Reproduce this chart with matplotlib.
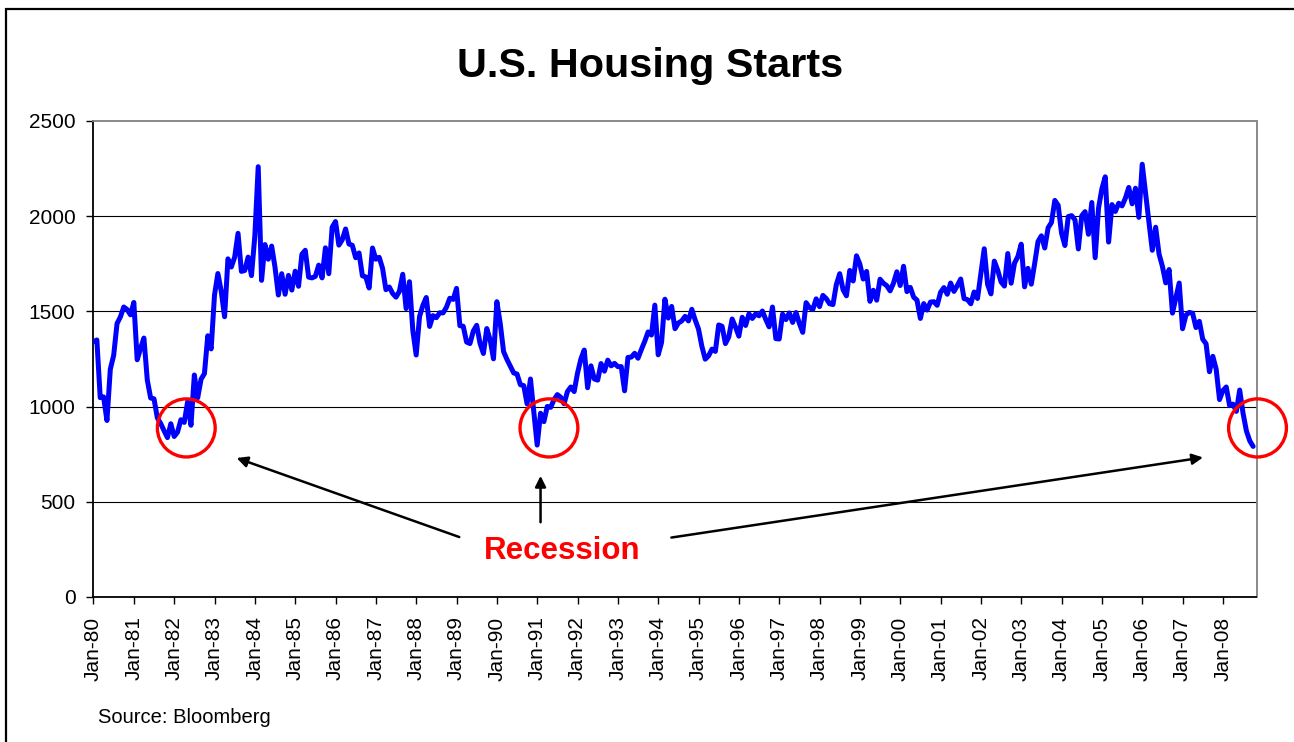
import matplotlib.pyplot as plt
from matplotlib.patches import Ellipse, Rectangle

# monthly housing starts, thousands (annual rate), Jan-80 .. Oct-08
y1980 = [1341, 1350, 1047, 1051, 927, 1196, 1269, 1436, 1471, 1523, 1510, 1482]
y1981 = [1547, 1246, 1306, 1360, 1140, 1045, 1041, 940, 911, 873, 837, 910]
y1982 = [843, 866, 931, 917, 1025, 902, 1166, 1046, 1144, 1173, 1372, 1303]
y1983 = [1586, 1699, 1606, 1472, 1776, 1733, 1785, 1910, 1710, 1715, 1785, 1688]
y1984 = [1897, 2260, 1663, 1851, 1774, 1843, 1732, 1586, 1698, 1590, 1689, 1612]
y1985 = [1711, 1632, 1800, 1821, 1680, 1676, 1684, 1743, 1676, 1834, 1698, 1942]
y1986 = [1972, 1848, 1876, 1933, 1854, 1847, 1782, 1807, 1687, 1681, 1623, 1833]
y1987 = [1774, 1784, 1726, 1614, 1628, 1594, 1575, 1605, 1695, 1515, 1656, 1400]
y1988 = [1271, 1473, 1532, 1573, 1421, 1478, 1467, 1493, 1492, 1522, 1569, 1563]
y1989 = [1621, 1425, 1422, 1339, 1331, 1397, 1427, 1332, 1279, 1410, 1351, 1251]
y1990 = [1551, 1437, 1289, 1248, 1212, 1177, 1171, 1115, 1110, 1014, 1145, 969]
y1991 = [798, 965, 921, 1001, 996, 1036, 1063, 1049, 1015, 1079, 1103, 1079]
y1992 = [1176, 1250, 1297, 1099, 1214, 1145, 1139, 1226, 1186, 1244, 1214, 1227]
y1993 = [1210, 1210, 1083, 1258, 1260, 1280, 1254, 1300, 1343, 1392, 1376, 1533]
y1994 = [1272, 1337, 1564, 1465, 1526, 1409, 1439, 1450, 1474, 1450, 1511, 1455]
y1995 = [1407, 1316, 1249, 1267, 1302, 1290, 1429, 1422, 1331, 1366, 1460, 1418]
y1996 = [1370, 1469, 1426, 1487, 1463, 1487, 1477, 1502, 1458, 1419, 1523, 1357]
y1997 = [1355, 1486, 1457, 1492, 1442, 1494, 1437, 1390, 1546, 1520, 1510, 1566]
y1998 = [1525, 1584, 1567, 1540, 1536, 1641, 1698, 1614, 1582, 1715, 1660, 1792]
y1999 = [1748, 1670, 1710, 1553, 1611, 1559, 1669, 1648, 1635, 1608, 1648, 1708]
y2000 = [1636, 1737, 1604, 1626, 1575, 1559, 1463, 1541, 1507, 1549, 1551, 1532]
y2001 = [1600, 1625, 1590, 1649, 1605, 1636, 1670, 1567, 1562, 1540, 1602, 1568]
y2002 = [1698, 1829, 1642, 1592, 1764, 1717, 1655, 1633, 1804, 1648, 1753, 1788]
y2003 = [1853, 1629, 1726, 1643, 1751, 1867, 1897, 1833, 1939, 1967, 2083, 2057]
y2004 = [1911, 1846, 1998, 2003, 1981, 1828, 2002, 2024, 1905, 2072, 1782, 2042]
y2005 = [2144, 2207, 1864, 2061, 2025, 2068, 2054, 2095, 2151, 2065, 2147, 1994]
y2006 = [2273, 2119, 1969, 1821, 1942, 1802, 1737, 1650, 1720, 1491, 1570, 1649]
y2007 = [1409, 1480, 1495, 1490, 1415, 1448, 1354, 1330, 1183, 1264, 1197, 1037]
y2008 = [1084, 1103, 1005, 1013, 975, 1087, 965, 872, 820, 791]

years = [y1980, y1981, y1982, y1983, y1984, y1985, y1986, y1987, y1988, y1989,
         y1990, y1991, y1992, y1993, y1994, y1995, y1996, y1997, y1998, y1999,
         y2000, y2001, y2002, y2003, y2004, y2005, y2006, y2007, y2008]
starts = [v for yr in years for v in yr]
tick_labels = ['Jan-%02d' % (y % 100) for y in range(1980, 2009)]

# recession lows marked on the chart (month index, level)
circles = [(27.6, 888), (135.5, 888), (346.3, 888)]

plt.rcParams['font.family'] = ['Liberation Sans', 'DejaVu Sans']

fig = plt.figure(figsize=(12.94, 7.42), dpi=100)
ax = fig.add_axes([93.5 / 1294, 1 - 597 / 742, 1163 / 1294, 476 / 742])

ax.plot(range(len(starts)), starts, color='#0000FF', lw=3.6, solid_joinstyle='round',
        solid_capstyle='round', zorder=3)

ax.set_xlim(0, 346)
ax.set_ylim(0, 2500)
ax.set_yticks(range(0, 2501, 500))
ax.set_xticks(range(0, 12 * len(tick_labels), 12))
ax.set_xticklabels(tick_labels, rotation=90)
ax.tick_params(labelsize=15, length=5, width=1, color='black', direction='out')
ax.tick_params(axis='x', pad=9)
ax.tick_params(axis='y', pad=8)

for v in range(500, 2500, 500):
    ax.axhline(v, color='black', lw=0.8, zorder=1)

ax.spines['left'].set_color('black')
ax.spines['bottom'].set_color('black')
ax.spines['top'].set_color('#808080')
ax.spines['right'].set_color('#808080')
for s in ax.spines.values():
    s.set_linewidth(1.3)

for cx, cy in circles:
    ax.add_patch(Ellipse((cx, cy), 17.2, 305, fill=False, edgecolor='red', lw=2.4,
                         clip_on=False, zorder=4))

arrow = dict(arrowstyle='-|>', color='black', lw=1.8, mutation_scale=16)
ax.annotate('', xy=(41.8, 735), xytext=(109.6, 310), arrowprops=arrow)
ax.annotate('', xy=(133.0, 651), xytext=(133.0, 378), arrowprops=arrow)
ax.annotate('', xy=(330.9, 735), xytext=(171.1, 310), arrowprops=arrow)

fig.text(562 / 1294, 1 - 559 / 742, 'Recession', color='red', fontsize=22.5,
         fontweight='bold', ha='center', va='baseline')
fig.text(650.5 / 1294, 1 - 77 / 742, 'U.S. Housing Starts', fontsize=29.8,
         fontweight='bold', ha='center', va='baseline')
fig.text(98 / 1294, 1 - 723 / 742, 'Source: Bloomberg', fontsize=14.5,
         ha='left', va='baseline')

# outer chart frame (only left and top edges are visible)
fig.patches.append(Rectangle((6 / 1294, -0.1), 1.2, 1.1 - 9 / 742, fill=False,
                             edgecolor='black', lw=1.6, transform=fig.transFigure))

fig.savefig('out.png', dpi=100, facecolor='white')
